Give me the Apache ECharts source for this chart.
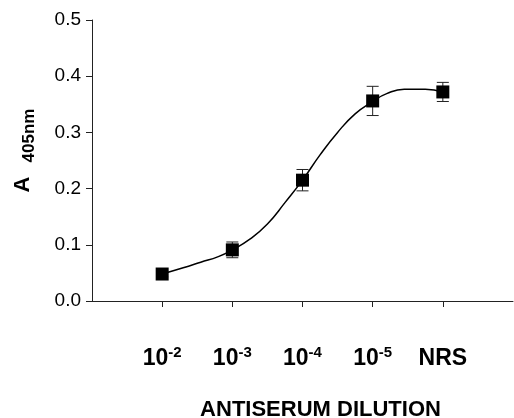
<!DOCTYPE html>
<html>
<head>
<meta charset="utf-8">
<script src="https://cdn.jsdelivr.net/npm/echarts@6/dist/echarts.min.js"></script>
<style>html,body{margin:0;padding:0;background:#fff}#c{width:514px;height:418px}</style>
</head>
<body>
<div id="c"></div>
<script>
// Category positions and labels
var categories = ['10^-2', '10^-3', '10^-4', '10^-5', 'NRS'];
var xPositions = [1, 2, 3, 4, 5];
// Measured means and error (± SD)
var meanValues = [0.048, 0.091, 0.215, 0.356, 0.372];
var errorValues = [0.005, 0.014, 0.019, 0.026, 0.017];
// Fitted curve (x position, A405)
var curveX = [1.0, 1.3, 1.55, 1.8, 2.0, 2.25, 2.5, 2.75, 3.0, 3.25, 3.5, 3.75, 4.0, 4.2, 4.45, 4.75, 5.0];
var curveY = [0.048, 0.059, 0.069, 0.079, 0.091, 0.110, 0.137, 0.175, 0.215, 0.260, 0.300, 0.333, 0.355, 0.369, 0.377, 0.377, 0.372];
var yTicks = [0.0, 0.1, 0.2, 0.3, 0.4, 0.5];

var FONT = '"Liberation Sans", Arial, sans-serif';
var chart = echarts.init(document.getElementById('c'), null, {renderer: 'canvas'});

var pointData = xPositions.map(function (x, i) { return [x, meanValues[i]]; });
var errData = xPositions.map(function (x, i) { return [x, meanValues[i] - errorValues[i], meanValues[i] + errorValues[i]]; });
var curveData = curveX.map(function (x, i) { return [x, curveY[i]]; });

function xLabel(v) {
  var idx = xPositions.indexOf(v);
  if (idx < 0) return '';
  var c = categories[idx];
  if (c.indexOf('^') >= 0) {
    var p = c.split('^');
    return '{b|' + p[0] + '}{s|' + p[1] + '}';
  }
  return '{b|' + c + '}';
}

chart.setOption({
  animation: false,
  grid: {left: 92, right: 1, top: 20, bottom: 117, containLabel: false, outerBoundsMode: 'none'},
  xAxis: {
    type: 'value', min: 0, max: 6, interval: 1,
    name: 'ANTISERUM DILUTION',
    nameLocation: 'middle', nameGap: 98,
    nameTextStyle: {fontFamily: FONT, fontWeight: 'bold', fontSize: 22, color: '#000', padding: [0, 0, 0, 36]},
    axisLine: {lineStyle: {color: '#222', width: 1}},
    axisTick: {inside: false, length: 6, lineStyle: {color: '#222'}},
    splitLine: {show: false},
    axisLabel: {
      margin: 46, formatter: xLabel, showMinLabel: false, showMaxLabel: false,
      rich: {
        b: {fontFamily: FONT, fontWeight: 'bold', fontSize: 23, color: '#000', lineHeight: 23},
        s: {fontFamily: FONT, fontWeight: 'bold', fontSize: 15, color: '#000', lineHeight: 15, padding: [0, 0, 12, 0]}
      }
    }
  },
  yAxis: {
    type: 'value', min: 0, max: 0.5, interval: 0.1,
    name: '{a|A}{b|405nm}',
    nameLocation: 'middle', nameRotate: 90, nameGap: 54,
    nameTextStyle: {
      padding: [0, 0, 0, 20],
      rich: {
        a: {fontFamily: FONT, fontWeight: 'bold', fontSize: 22, color: '#000', lineHeight: 26, verticalAlign: 'top', padding: [0, 14, 0, 0]},
        b: {fontFamily: FONT, fontWeight: 'bold', fontSize: 17, color: '#000', lineHeight: 17, verticalAlign: 'bottom'}
      }
    },
    axisLine: {show: true, lineStyle: {color: '#222', width: 1}},
    axisTick: {show: true, inside: false, length: 6, lineStyle: {color: '#222'}},
    splitLine: {show: false},
    axisLabel: {
      margin: 11, fontFamily: FONT, fontSize: 19, color: '#000',
      formatter: function (v) { return v.toFixed(1); }
    }
  },
  series: [
    {
      type: 'line', data: curveData, smooth: 0.5, showSymbol: false,
      lineStyle: {color: '#000', width: 1.5}, z: 2
    },
    {
      type: 'custom', data: errData, z: 3,
      renderItem: function (params, api) {
        var x = api.value(0);
        var lo = api.coord([x, api.value(1)]);
        var hi = api.coord([x, api.value(2)]);
        var w = 6;
        var st = {stroke: '#222', lineWidth: 1};
        return {
          type: 'group', children: [
            {type: 'line', shape: {x1: lo[0], y1: lo[1], x2: hi[0], y2: hi[1]}, style: st},
            {type: 'line', shape: {x1: lo[0] - w, y1: lo[1], x2: lo[0] + w, y2: lo[1]}, style: st},
            {type: 'line', shape: {x1: hi[0] - w, y1: hi[1], x2: hi[0] + w, y2: hi[1]}, style: st}
          ]
        };
      }
    },
    {
      type: 'scatter', data: pointData, symbol: 'rect', symbolSize: 13,
      itemStyle: {color: '#000', opacity: 1}, z: 4
    }
  ]
});
</script>
</body>
</html>
